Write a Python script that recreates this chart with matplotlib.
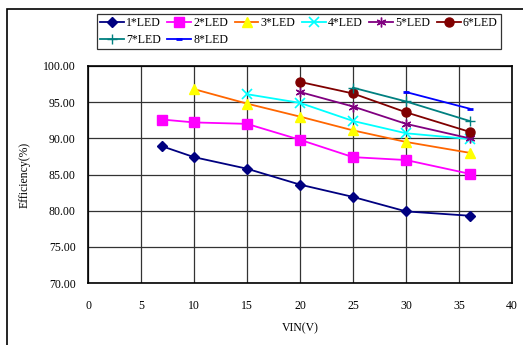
import matplotlib.pyplot as plt
from matplotlib.patches import Rectangle
from matplotlib.lines import Line2D

plt.rcParams['font.family'] = ['Liberation Serif', 'DejaVu Serif']

# efficiency (%) vs input voltage for 1..8 LEDs
x1 = [7, 10, 15, 20, 25, 30, 36]
y1 = [88.9, 87.4, 85.8, 83.6, 81.9, 79.9, 79.3]
x2 = [7, 10, 15, 20, 25, 30, 36]
y2 = [92.6, 92.2, 92.0, 89.8, 87.4, 87.0, 85.1]
x3 = [10, 15, 20, 25, 30, 36]
y3 = [96.8, 94.8, 93.0, 91.1, 89.5, 88.0]
x4 = [15, 20, 25, 30, 36]
y4 = [96.1, 94.9, 92.4, 90.7, 89.9]
x5 = [20, 25, 30, 36]
y5 = [96.4, 94.4, 92.0, 90.0]
x6 = [20, 25, 30, 36]
y6 = [97.8, 96.2, 93.6, 90.9]
x7 = [25, 30, 36]
y7 = [97.0, 95.1, 92.4]
x8 = [30, 36]
y8 = [96.4, 94.1]

labels = ['1*LED', '2*LED', '3*LED', '4*LED', '5*LED', '6*LED', '7*LED', '8*LED']

fig = plt.figure(figsize=(5.23, 3.45), dpi=100)
ax = fig.add_axes([88/523, 1-283/345, 424/523, 217/345])

# outer chart frame (cut off on right/bottom like the original)
fig.patches.append(Rectangle((7/523, -0.1), 1.2, 1 - 9/345 + 0.1, transform=fig.transFigure,
                             fill=False, edgecolor='black', linewidth=1.2))

h = []
h += ax.plot(x1, y1, color='#000080', marker='D', markersize=5, lw=1.3, label=labels[0])
h += ax.plot(x2, y2, color='#FF00FF', marker='s', markersize=6.5, lw=1.3, label=labels[1])
h += ax.plot(x3, y3, color='#FF6600', marker='^', markersize=7, mfc='#FFFF00', mec='#FFFF00', lw=1.3, label=labels[2])
h += ax.plot(x4, y4, color='#00FFFF', marker='x', markersize=6.5, mew=1.2, lw=1.3, label=labels[3])
h += ax.plot(x5, y5, color='#800080', marker=(6, 2, 0), markersize=7, mew=1.0, lw=1.3, label=labels[4])
h += ax.plot(x6, y6, color='#800000', marker='o', markersize=6.5, lw=1.3, label=labels[5])
h += ax.plot(x7, y7, color='#008080', marker='+', markersize=7, mew=1.0, lw=1.3, label=labels[6])
h += ax.plot(x8, y8, color='#0000FF', marker='_', markersize=4, mew=2, lw=1.3, label=labels[7])

ax.set_xlim(0, 40)
ax.set_ylim(70, 100)
ax.set_xticks(range(0, 41, 5))
ax.set_yticks(range(70, 101, 5))
ax.set_yticklabels(['%.2f' % v for v in range(70, 101, 5)])
ax.grid(True, color='#333333', linewidth=0.9)
ax.set_axisbelow(True)
ax.tick_params(length=0, labelsize=8.5)
ax.tick_params(axis='y', pad=9)
ax.tick_params(axis='x', pad=12)
for s in ax.spines.values():
    s.set_linewidth(1.2)

ax.set_xlabel('VIN(V)', fontsize=8.5, labelpad=8)
ax.set_ylabel('Efficiency(%)', fontsize=8.5, labelpad=9)

# legend laid out row by row: 6 on top, 2 below
blank = Line2D([], [], linestyle='none')
order = [h[0], h[6], h[1], h[7], h[2], blank, h[3], blank, h[4], blank, h[5], blank]
names = [labels[0], labels[6], labels[1], labels[7], labels[2], '', labels[3], '', labels[4], '', labels[5], '']
leg = fig.legend(order, names, loc='upper left', bbox_to_anchor=(97/523, 1 - 14/345), ncol=6,
                 fontsize=8.5, frameon=True, fancybox=False, edgecolor='black',
                 handlelength=2.0, handletextpad=0.2, columnspacing=0.55,
                 borderpad=0.25, labelspacing=0.45, borderaxespad=0)
leg.get_frame().set_linewidth(0.9)

fig.savefig('out.png', dpi=100)
